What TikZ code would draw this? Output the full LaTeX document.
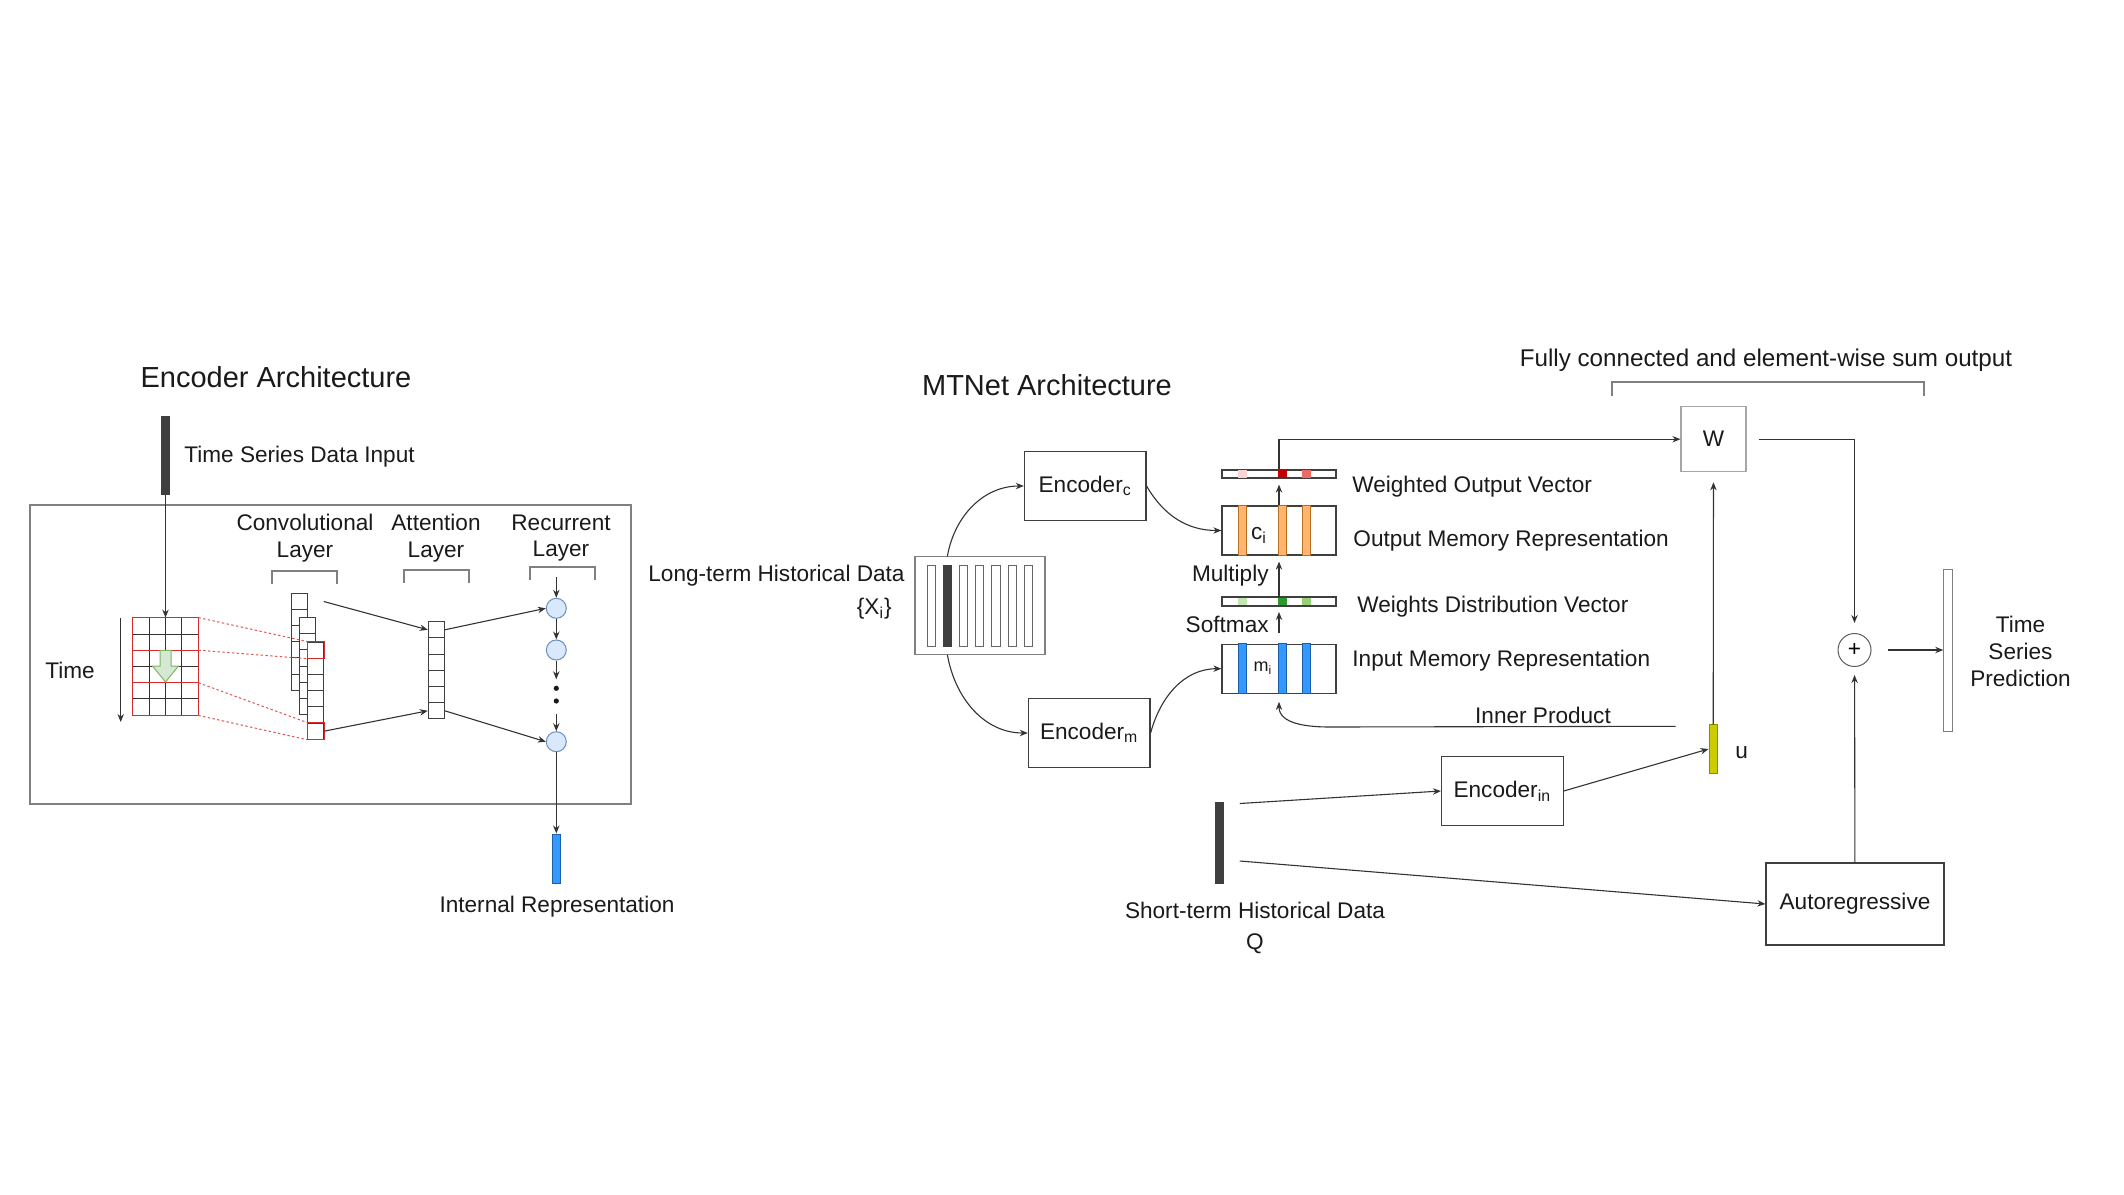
\documentclass[tikz,border=0pt]{standalone}
\usepackage{fontspec}
\setmainfont{Liberation Sans}
\usetikzlibrary{arrows.meta,positioning,calc}
\definecolor{cInk}{HTML}{1A1A1A}
\definecolor{cLine}{HTML}{333333}
\definecolor{cFrame}{HTML}{808080}
\definecolor{cDark}{HTML}{3F3F3F}
\definecolor{cBlue}{HTML}{3399FF}
\definecolor{cBlueD}{HTML}{1F5FA8}
\definecolor{cOrange}{HTML}{FFB570}
\definecolor{cOrangeD}{HTML}{B86F1E}
\definecolor{cYellow}{HTML}{CCCC00}
\definecolor{cYellowD}{HTML}{8A8A00}
\definecolor{cRed}{HTML}{D62B2B}
\definecolor{cRedL}{HTML}{F8D4D4}
\definecolor{cRedM}{HTML}{EA6B66}
\definecolor{cRedD}{HTML}{C00000}
\definecolor{cGreenL}{HTML}{C5E5B5}
\definecolor{cGreenM}{HTML}{97D077}
\definecolor{cGreenD}{HTML}{2A9A2A}
\definecolor{cNode}{HTML}{DAE8FC}
\definecolor{cNodeD}{HTML}{6C8EBF}
\definecolor{cArrow}{HTML}{D5E8D4}
\definecolor{cArrowD}{HTML}{82B366}
\newcommand{\bodyfont}{\fontsize{11.3}{13.4}\selectfont}
\newcommand{\titlefont}{\fontsize{14.5}{17}\selectfont}
\tikzset{
  txt/.style={font=\bodyfont,text=cInk,inner sep=0pt},
  ttl/.style={font=\titlefont,text=cInk,inner sep=0pt},
  blk/.style={draw=#1,line width=0.6pt,fill=white,font=\bodyfont,text=cInk,inner sep=0pt,minimum width=60.8pt,minimum height=34.5pt},
  blk/.default=cDark,
  vbar/.style={draw=cDark,fill=#1,line width=0.5pt,inner sep=0pt,minimum width=4pt},
  memc/.style={draw=cDark,line width=0.6pt,inner sep=0pt,minimum width=57pt},
  cell/.style={draw=cDark,fill=white,line width=0.5pt,inner sep=0pt,minimum width=8.15pt,minimum height=8.1pt},
  rnn/.style={circle,draw=cNodeD,fill=cNode,line width=0.5pt,minimum size=10pt,inner sep=0pt},
  dotc/.style={circle,fill=cInk,minimum size=2.6pt,inner sep=0pt},
  arr/.style={-{Stealth[length=4pt,width=3.2pt]},line width=0.55pt,draw=cLine},
  ln/.style={line width=0.5pt,draw=cLine},
  brk/.style={line width=0.7pt,draw=cFrame},
  rdot/.style={draw=cRed!80,line width=0.5pt,dash pattern=on 1.2pt off 1.2pt},
}

\begin{document}
\begin{tikzpicture}[x=0.5pt,y=-0.5pt]
  \useasboundingbox (0,0) rectangle (2124,1194);
  % encoder architecture
  \node[ttl] (enctitle) at (276,377) {Encoder Architecture};
  \node[vbar=cDark,minimum height=39pt] (tsin) at (165.5,455) {};
  \node[txt,anchor=west] (tsinlbl) at (184,457) {Time Series Data Input};
  \draw[draw=cFrame,line width=0.6pt] (30,505) rectangle (631,804);

  % input grid
  \node[inner sep=0pt,minimum width=32.5pt,minimum height=48.5pt] (grid) at (165.5,666.5) {};
  \foreach \i in {1,2,3} \draw[ln] (133+16.25*\i,618) -- ++(0,97);
  \foreach \j in {1,...,5} \draw[ln] (133,618+16.17*\j) -- ++(65,0);
  \draw[draw=cRed,line width=0.6pt] (grid.north west) rectangle (grid.south east);
  \draw[draw=cRed,line width=0.6pt] ($(grid.north west)!1/3!(grid.south west)$) -- ($(grid.north east)!1/3!(grid.south east)$);
  \draw[draw=cRed,line width=0.6pt] ($(grid.north west)!2/3!(grid.south west)$) -- ($(grid.north east)!2/3!(grid.south east)$);
  \draw[draw=cArrowD,fill=cArrow,line width=0.5pt] (160,650.3) -- (171,650.3) -- (171,666) -- (178.5,666)
    -- (165.5,682) -- (152.5,666) -- (160,666) -- cycle;
  \draw[arr] (tsin.south) -- (grid.north);
  \coordinate (t0) at (120.7,618);
  \coordinate (t1) at (120.7,722);
  \draw[arr] (t0) -- (t1);
  \node[txt] (timelbl) at (70,670) {Time};

  % convolutional layer
  \foreach \c/\x/\y in {1/299.15/593,2/307.45/617.5,3/315.75/642}
    \foreach \k in {1,...,6}
      \node[cell] (cv\c-\k) at (\x,\y+16.2*\k-8.1) {};
  \draw[rdot] (grid.north east) -- (cv3-1.north west);
  \draw[rdot] ($(grid.north east)!1/3!(grid.south east)$) -- (cv3-1.south west);
  \draw[rdot] ($(grid.north east)!2/3!(grid.south east)$) -- (cv3-6.north west);
  \draw[rdot] (grid.south east) -- (cv3-6.south west);
  \draw[draw=cRed,line width=0.6pt] (cv3-1.north west) rectangle (cv3-1.south east);
  \draw[draw=cRed,line width=0.6pt] (cv3-6.north west) rectangle (cv3-6.south east);

  % attention layer
  \foreach \k in {1,...,6}
    \node[cell,minimum width=8pt] (at-\k) at (436.3,621.7+16.2*\k-8.1) {};
  \draw[arr] ($(cv1-1.north east)+(16,9)$) -- (at-1.west);
  \draw[arr] (cv3-6.east) -- (at-6.west);

  % recurrent layer
  \node[rnn] (h1) at (556.3,608.3) {};
  \node[rnn] (h2) at (556.3,650) {};
  \node[rnn] (h3) at (556.3,741.7) {};
  \node[dotc] (d1) at (556.3,688.3) {};
  \node[dotc] (d2) at (556.3,701) {};
  \coordinate (h0) at (556.3,577);
  \draw[arr] (at-1.east) -- (h1.west);
  \draw[arr] (at-6.east) -- (h3.west);
  \draw[arr] (h0) -- (h1.north);
  \draw[arr] (h1) -- (h2);
  \draw[arr,shorten >=3pt] (h2) -- (d1);
  \draw[arr,shorten <=5pt] (d2) -- (h3);
  \node[vbar=cBlue,draw=cBlueD,minimum width=3.7pt,minimum height=24.5pt] (irep) at (556.3,858.5) {};
  \draw[arr] (h3) -- (irep);
  \node[txt] (ireplbl) at (557,907) {Internal Representation};

  \draw[brk] (272,584) |- (337,571) -- (337,584);
  \draw[brk] (404,583) |- (469,570) -- (469,583);
  \draw[brk] (530,580) |- (595,567) -- (595,580);
  \node[txt,align=center] (convlbl) at (305,538) {Convolutional\\Layer};
  \node[txt,align=center] (attlbl) at (436,538) {Attention\\Layer};
  \node[txt,align=center] (reclbl) at (561,538) {Recurrent\\Layer};

  % MTNet architecture
  \node[ttl] (mttitle) at (1047,385) {MTNet Architecture};
  \node[draw=cFrame,line width=0.6pt,inner sep=0pt,minimum width=65pt,minimum height=48.8pt] (ltd) at (980,605.5) {};
  \foreach \k in {0,2,3,4,5,6}
    \node[vbar=white,draw=cDark!80,minimum width=4.15pt,minimum height=40.5pt] (xb\k) at (931.2+16.2*\k,605.5) {};
  \node[vbar=cDark,minimum width=4.15pt,minimum height=40.5pt] (xi) at (947.4,605.5) {};
  \node[txt,anchor=east] (ltdlbl) at (905,576) {Long-term Historical Data};
  \node[txt,anchor=east] (xilbl) at (892,609) {\{X\textsubscript{i}\}};

  \node[blk] (encc) at (1085.2,486) {Encoder\textsubscript{c}};
  \node[blk] (encm) at (1089.2,733) {Encoder\textsubscript{m}};
  \draw[arr] (xi |- ltd.north) to[out=80,in=180] (encc.west);
  \draw[arr] (xi |- ltd.south) to[out=-80,in=180] (encm.west);

  % memory stack
  \node[memc,minimum height=4pt] (wov) at (1279,474) {};
  \node[memc,minimum height=24.5pt] (outm) at (1279,530.5) {};
  \node[memc,minimum height=3.9pt] (wdv) at (1279,601.5) {};
  \node[memc,minimum height=24.6pt] (inm) at (1279,668.7) {};
  \foreach \o/\col in {16.6/cRedL,56.9/cRedD,81/cRedM}
    \fill[\col] ($(wov.north west)+(\o,0)$) rectangle ($(wov.south west)+(\o+8.5,0)$);
  \foreach \o/\col in {16.6/cGreenL,56.9/cGreenD,81/cGreenM}
    \fill[\col] ($(wdv.north west)+(\o,0)$) rectangle ($(wdv.south west)+(\o+8.5,0)$);
  \foreach \o in {16.6,56.9,81} {
    \draw[draw=cOrangeD,fill=cOrange,line width=0.5pt] ($(outm.north west)+(\o,0)$) rectangle ($(outm.south west)+(\o+8.5,0)$);
    \draw[draw=cBlueD,fill=cBlue,line width=0.5pt] ($(inm.north west)+(\o,0)$) rectangle ($(inm.south west)+(\o+8.5,0)$);
  }
  \draw[draw=cDark,line width=0.6pt] (wov.north west) rectangle (wov.south east);
  \draw[draw=cDark,line width=0.6pt] (wdv.north west) rectangle (wdv.south east);
  \node[txt] (cilbl) at (1259,535) {c\textsubscript{i}};
  \node[txt,font=\fontsize{9}{10}\selectfont] (milbl) at (1263,668) {m\textsubscript{i}};
  \draw[arr] (encc.east) to[out=-60,in=180] (outm.west);
  \draw[arr] (encm.east) to[out=75,in=180] (inm.west);
  \draw[arr,shorten <=5.5pt,shorten >=3pt] (inm) -- (wdv);
  \draw[arr,shorten >=3pt] (wdv) -- (outm);
  \draw[arr,shorten >=3pt] (outm) -- (wov);
  \node[txt,anchor=east] (smlbl) at (1269,624.5) {Softmax};
  \node[txt,anchor=east] (mullbl) at (1269,576) {Multiply};
  \node[txt,anchor=west] (wovlbl) at (1352,487) {Weighted Output Vector};
  \node[txt,anchor=west] (outmlbl) at (1353,541) {Output Memory Representation};
  \node[txt,anchor=west] (wdvlbl) at (1357,607) {Weights Distribution Vector};
  \node[txt,anchor=west] (inmlbl) at (1352,661) {Input Memory Representation};

  % output part
  \node[blk=cFrame!70,minimum width=32.5pt,minimum height=32.5pt] (W) at (1713.5,439.2) {W};
  \draw[arr] (wov.north) |- (W.west);
  \node[vbar=cYellow,draw=cYellowD,minimum width=4.2pt,minimum height=24.2pt] (u) at (1713.2,749) {};
  \node[txt,anchor=west] (ulbl) at (1735,753) {u};
  \draw[arr,shorten >=5pt] (u) -- (W);
  \draw[arr] ($(u.north west)+(-33,2)$) -- (1330,727) to[out=180,in=-90] ($(inm.south)+(0,8)$);
  \node[txt] (iplbl) at (1543,715) {Inner Product};

  \node[vbar=cDark,minimum width=3.75pt,minimum height=40.5pt] (stb) at (1219.5,842.5) {};
  \node[txt] (stblbl) at (1255,910) {Short-term Historical Data};
  \node[txt] (qlbl) at (1255,944) {Q};
  \node[blk] (encin) at (1502.3,791) {Encoder\textsubscript{in}};
  \node[blk,minimum width=89pt,minimum height=41pt] (ar) at (1855,904) {Autoregressive};
  \draw[arr] ($(stb.north east)+(16,2)$) -- (encin.west);
  \draw[arr] ($(stb.east)+(16,18.5)$) -- (ar.west);
  \draw[arr] (encin.east) -- (u.west);

  \node[circle,draw=cLine!80,line width=0.5pt,minimum size=16.5pt,inner sep=0pt,font=\bodyfont] (plus) at (1854.5,650) {+};
  \node[draw=cFrame,line width=0.5pt,fill=white,inner sep=0pt,minimum width=4.3pt,minimum height=81pt] (outb) at (1948,650) {};
  \draw[arr,shorten >=5pt] ($(W.east)+(12,0)$) -| (plus);
  \draw[arr,shorten >=4pt] (ar) -- (plus);
  \draw[arr,shorten <=8pt] (plus) -- (outb);
  \node[txt,align=center] (predlbl) at (2020.5,651.7) {Time\\Series\\Prediction};
  \node[txt,font=\fontsize{12.1}{14}\selectfont] (fclbl) at (1766,360) {Fully connected and element-wise sum output};
  \draw[brk] (1612,396) |- (1924,382) -- (1924,396);
\end{tikzpicture}
\end{document}
